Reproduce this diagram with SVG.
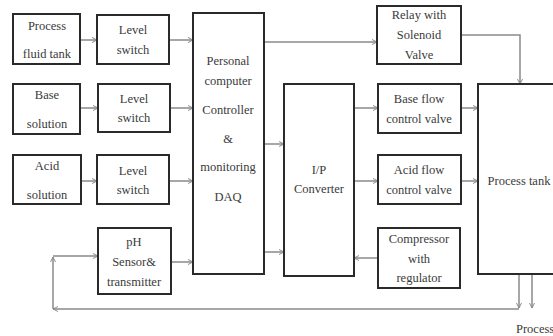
<svg xmlns="http://www.w3.org/2000/svg" width="553" height="336" viewBox="0 0 553 336">
<defs>
<marker id="ah" viewBox="0 0 8 8" refX="7" refY="4" markerWidth="6" markerHeight="6" orient="auto" markerUnits="userSpaceOnUse">
<path d="M0,0.5 L7,4 L0,7.5" fill="none" stroke="#8a8a8a" stroke-width="1.3"/>
</marker>
</defs>
<style>
.b{fill:#fff;stroke:#2a2a2a;stroke-width:2}
.t{font-family:'Liberation Serif',serif;font-size:12.5px;fill:#3a3a3a;text-anchor:middle}
.c{fill:none;stroke:#8a8a8a;stroke-width:1.5}
.a{marker-end:url(#ah)}
</style>
<rect width="553" height="336" fill="#fff"/>
<g id="connectors">
<path class="c a" d="M80,40 H97"/>
<path class="c a" d="M169,40 H193"/>
<path class="c a" d="M80,108 H98"/>
<path class="c a" d="M170,108 H193"/>
<path class="c a" d="M81,181 H97"/>
<path class="c a" d="M169,181 H193"/>
<path class="c a" d="M171,262 H193"/>
<path class="c a" d="M264,42 H377"/>
<path class="c a" d="M264,144 H284"/>
<path class="c a" d="M264,252 H284"/>
<path class="c a" d="M354,108 H378"/>
<path class="c a" d="M354,181 H378"/>
<path class="c a" d="M378,258 H354"/>
<path class="c a" d="M461,108 H478"/>
<path class="c a" d="M461,181 H478"/>
<path class="c a" d="M461,35 H520 V84"/>
<path class="c a" d="M519,274 V308"/>
<path class="c a" d="M532,274 V308"/>
<path class="c a" d="M519,309 H53"/>
<path class="c a" d="M53,309 V257"/>
<path class="c a" d="M53,256 H98"/>
</g>
<g id="process-fluid-tank"><rect class="b" x="13" y="14" width="67" height="50"/><text class="t" x="47" y="30">Process</text><text class="t" x="47" y="58">fluid tank</text></g>
<g id="level-switch-1"><rect class="b" x="97" y="15" width="72" height="49"/><text class="t" x="133" y="34">Level</text><text class="t" x="133" y="54">switch</text></g>
<g id="base-solution"><rect class="b" x="13" y="84" width="67" height="50"/><text class="t" x="47" y="99">Base</text><text class="t" x="47" y="128">solution</text></g>
<g id="level-switch-2"><rect class="b" x="98" y="84" width="72" height="48"/><text class="t" x="134" y="103">Level</text><text class="t" x="134" y="122">switch</text></g>
<g id="acid-solution"><rect class="b" x="13" y="155" width="68" height="49"/><text class="t" x="47" y="170">Acid</text><text class="t" x="47" y="199">solution</text></g>
<g id="level-switch-3"><rect class="b" x="97" y="155" width="72" height="49"/><text class="t" x="133" y="175">Level</text><text class="t" x="133" y="194">switch</text></g>
<g id="pc"><rect class="b" x="193" y="13" width="71" height="261"/><text class="t" x="228" y="65">Personal</text><text class="t" x="228" y="85">computer</text><text class="t" x="228" y="114">Controller</text><text class="t" x="228" y="143">&amp;</text><text class="t" x="228" y="171">monitoring</text><text class="t" x="228" y="201">DAQ</text></g>
<g id="ph-sensor"><rect class="b" x="98" y="228" width="73" height="66"/><text class="t" x="134" y="246">pH</text><text class="t" x="134" y="266">Sensor&amp;</text><text class="t" x="134" y="286">transmitter</text></g>
<g id="relay"><rect class="b" x="377" y="6" width="84" height="58"/><text class="t" x="419" y="19">Relay with</text><text class="t" x="419" y="39">Solenoid</text><text class="t" x="419" y="59">Valve</text></g>
<g id="ip-converter"><rect class="b" x="284" y="84" width="70" height="192"/><text class="t" x="319" y="174">I/P</text><text class="t" x="319" y="193">Converter</text></g>
<g id="base-flow"><rect class="b" x="378" y="84" width="83" height="49"/><text class="t" x="419" y="103">Base flow</text><text class="t" x="419" y="123">control valve</text></g>
<g id="acid-flow"><rect class="b" x="378" y="155" width="83" height="49"/><text class="t" x="419" y="174">Acid flow</text><text class="t" x="419" y="194">control valve</text></g>
<g id="compressor"><rect class="b" x="378" y="228" width="82" height="60"/><text class="t" x="419" y="243">Compressor</text><text class="t" x="419" y="263">with</text><text class="t" x="419" y="282">regulator</text></g>
<g id="process-tank"><rect class="b" x="478" y="84" width="90" height="190"/><text class="t" x="519" y="185">Process tank</text></g>
<g id="process-out"><text class="t" x="516" y="333" style="text-anchor:start">Process</text></g>
</svg>
